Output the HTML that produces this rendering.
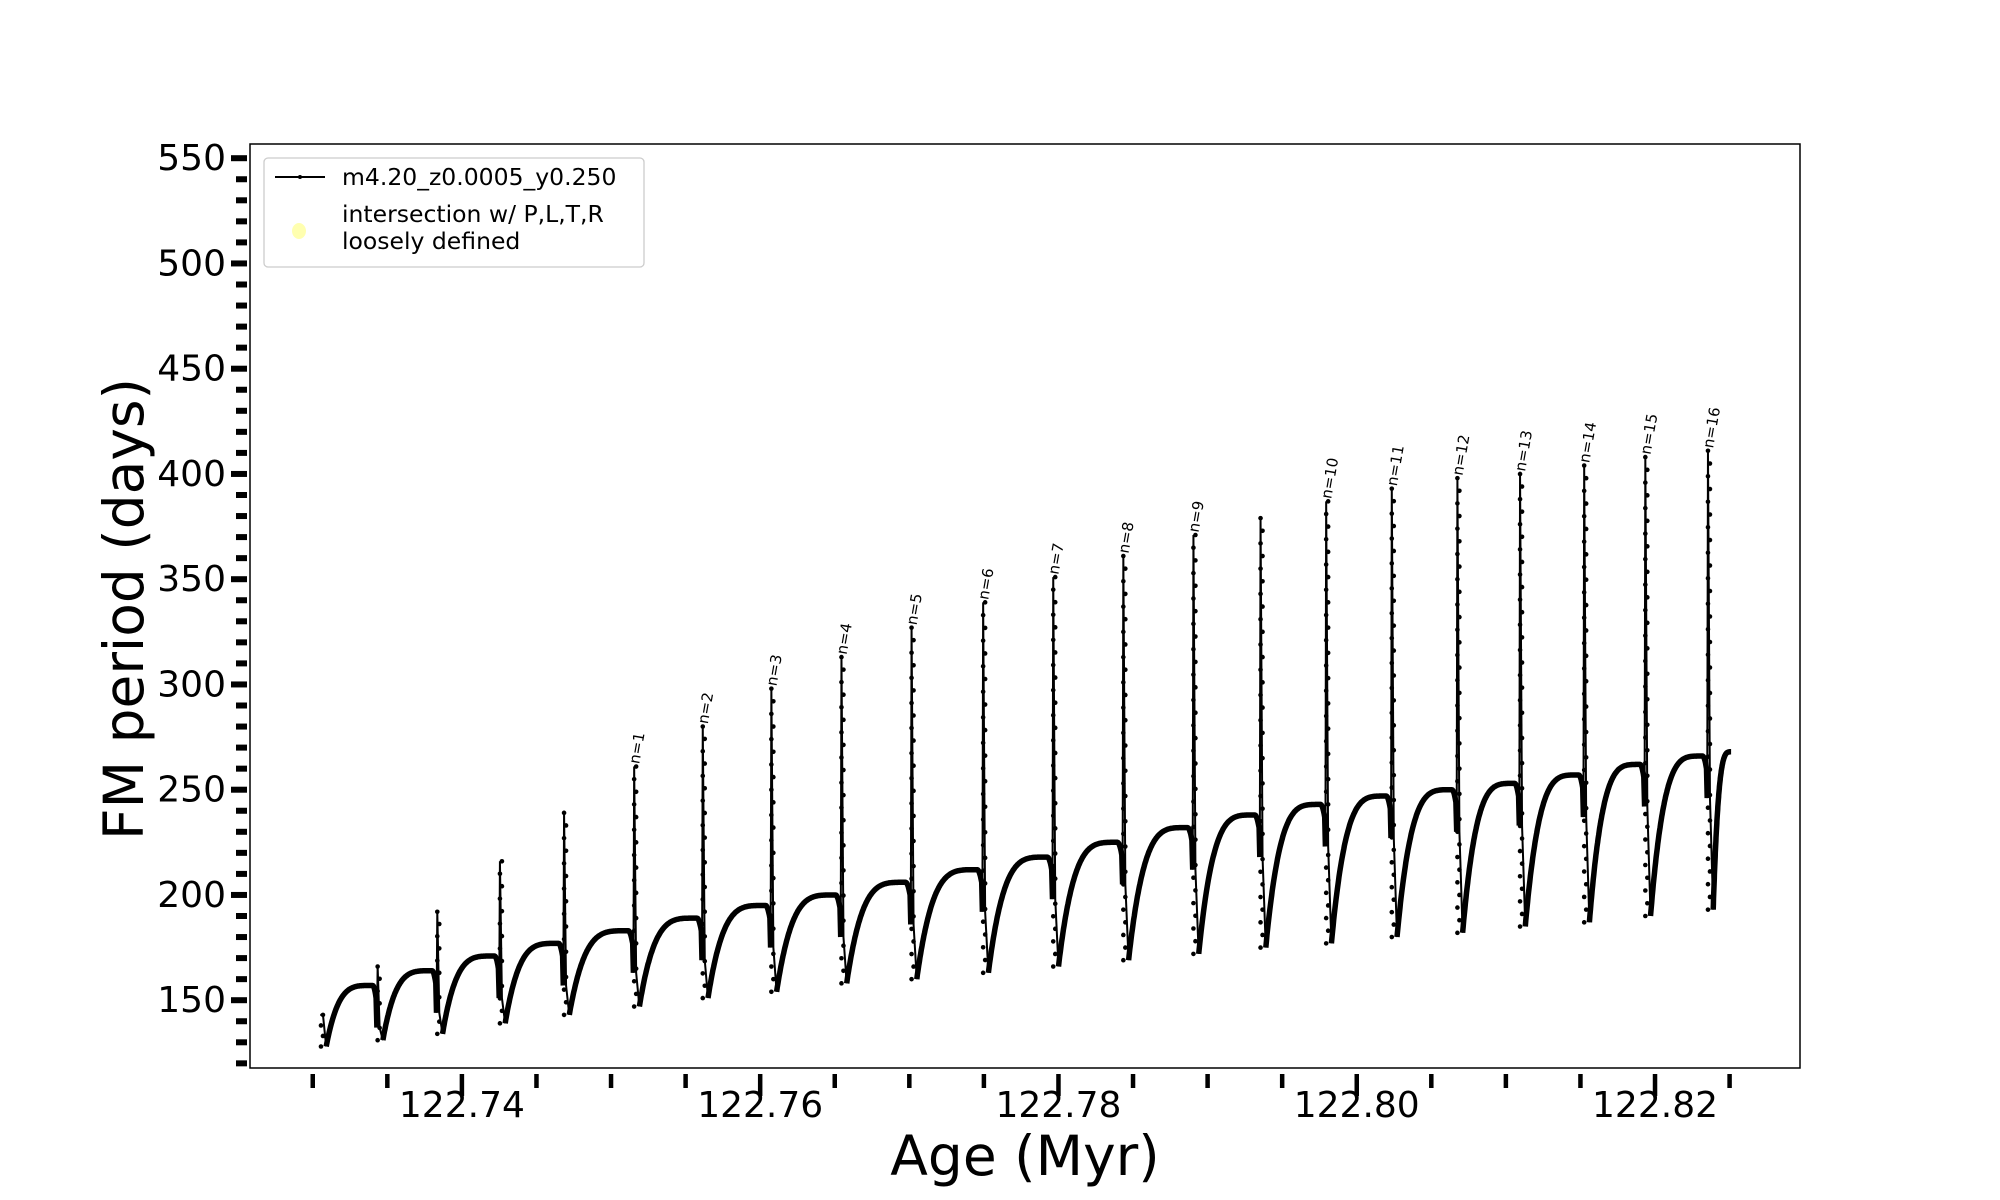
<!DOCTYPE html>
<html><head><meta charset="utf-8"><style>
body{margin:0;background:#fff}
svg{display:block;font-family:"DejaVu Sans","Liberation Sans",sans-serif}
</style></head><body>
<svg id="chart" width="2000" height="1200" viewBox="0 0 2000 1200">
<rect width="2000" height="1200" fill="#fff"/>
<g id="series"></g>
<g id="axes"></g>
<rect x="250" y="144" width="1550" height="924" fill="none" stroke="#000" stroke-width="1.5"/>
<text x="1025" y="1175" font-size="55" text-anchor="middle">Age (Myr)</text>
<text transform="translate(143,609) rotate(-90)" font-size="55" text-anchor="middle">FM period (days)</text>
<g>
<rect x="264" y="158" width="380" height="109" rx="4" fill="#fff" fill-opacity="0.8" stroke="#ccc" stroke-width="1.3"/>
<line x1="275" y1="177" x2="325" y2="177" stroke="#000" stroke-width="2"/>
<circle cx="300" cy="177" r="2" fill="#000"/>
<text x="342" y="185" font-size="23.5">m4.20_z0.0005_y0.250</text>
<ellipse cx="299" cy="231" rx="7" ry="8" fill="#ffffb0"/>
<text x="342" y="222" font-size="23.5">intersection w/ P,L,T,R</text>
<text x="342" y="249" font-size="23.5">loosely defined</text>
</g>
</svg>
<script>
const spikeAge=[122.7305,122.7343,122.7383,122.7425,122.7468,122.7515,122.7561,122.7607,122.7654,122.7701,122.7749,122.7796,122.7843,122.7890,122.7935,122.7979,122.8023,122.8067,122.8109,122.8152,122.8193,122.8235];
const peakVal=[143,166,192,216,239,261,280,298,313,327,339,351,361,371,379,387,393,398,400,404,408,411];
const plateauVal=[143,157,164,171,177,183,189,195,200,206,212,218,225,232,238,243,247,250,253,257,262,266];
const minVal=[128,131,134,139,143,147,151,154,158,160,163,166,169,172,175,177,180,182,185,187,190,193];
const spikeLabels=["","","","","","n=1","n=2","n=3","n=4","n=5","n=6","n=7","n=8","n=9","","n=10","n=11","n=12","n=13","n=14","n=15","n=16"];
const endAge=122.8251, endVal=268;
const xTicks=[122.74,122.76,122.78,122.80,122.82];
const xTickLabels=["122.74","122.76","122.78","122.80","122.82"];
const yTicks=[150,200,250,300,350,400,450,500,550];

const NS="http://www.w3.org/2000/svg";
function X(a){return 461.9+(a-122.74)*14914;}
function Y(v){return 158.2+(550-v)*2.105;}
function mk(tag,attrs,parent){const e=document.createElementNS(NS,tag);for(const k in attrs)e.setAttribute(k,attrs[k]);parent.appendChild(e);return e;}
const S=document.getElementById('series'), A=document.getElementById('axes');

for(let k=0;k<spikeAge.length;k++){
  const a0=spikeAge[k]+0.0004, m=minVal[k];
  const last=k===spikeAge.length-1;
  const a1=last?endAge:spikeAge[k+1]-0.00005;
  const p=last?endVal:plateauVal[k+1];
  let pts=[];
  const N=100;
  for(let i=0;i<=N;i++){
    const u=i/N;
    let v;
    if(last){v=m+(p-m)*(1-Math.pow(1-u,3.5));}
    else{
      const t=Math.min(u/0.93,1);
      v=m+(p-m)*(1-Math.pow(1-t,4));
      if(u>0.93){const w=(u-0.93)/0.07;v=p-6*w*w;}
    }
    pts.push(X(a0+(a1-a0)*u).toFixed(1)+','+Y(v).toFixed(1));
  }
  if(!last){pts.push(X(spikeAge[k+1]).toFixed(1)+','+Y(plateauVal[k+1]-20).toFixed(1));}
  const pl=mk('polyline',{points:pts.join(' '),fill:'none',stroke:'#000','stroke-width':5.5,'stroke-linejoin':'round'},S);
  
  
}
for(let k=0;k<spikeAge.length;k++){
  const base=k===0?peakVal[0]:plateauVal[k]-20;
  const xs=X(spikeAge[k]), xp=X(spikeAge[k]+0.00005), xm=X(spikeAge[k]+0.0004);
  const g=mk('g',{},S);
  
  
  mk('polyline',{points:`${xs},${Y(base)} ${xp},${Y(peakVal[k])} ${xp+2},${Y(base)} ${xm},${Y(minVal[k])}`,fill:'none',stroke:'#000','stroke-width':2},g);
  const n=Math.round((peakVal[k]-minVal[k])/6);
  for(let i=0;i<=n;i++){
    const v=minVal[k]+(peakVal[k]-minVal[k])*i/n;
    mk('circle',{cx:xp+(i%2?2:0),cy:Y(v),r:2.3,fill:'#000'},g);
  }
  if(spikeLabels[k]){
    const t=mk('text',{transform:`translate(${xp+5},${Y(peakVal[k])-2}) rotate(-80)`,'font-size':15},S);
    t.textContent=spikeLabels[k];
    
    
  }
}
for(let i=0;i<=19;i++){
  const a=122.730+i*0.005, x=X(a);
  const major=Math.abs(((a-122.74)/0.02)-Math.round((a-122.74)/0.02))<1e-6;
  mk('line',{x1:x,y1:1074,x2:x,y2:major?1096:1088,stroke:'#000','stroke-width':4.5},A);
}
xTicks.forEach((a,i)=>{
  const t=mk('text',{x:X(a),y:1117,'font-size':36,'text-anchor':'middle'},A);
  t.textContent=xTickLabels[i];
  
  
});
for(let v=120;v<=550;v+=10){
  const major=v%50===0;
  mk('line',{x1:major?231:236,y1:Y(v),x2:247,y2:Y(v),stroke:'#000','stroke-width':6},A);
}
yTicks.forEach((v,i)=>{
  const t=mk('text',{x:226,y:Y(v)+12,'font-size':36,'text-anchor':'end'},A);
  t.textContent=String(v);
  
  
});
</script>
</body></html>
